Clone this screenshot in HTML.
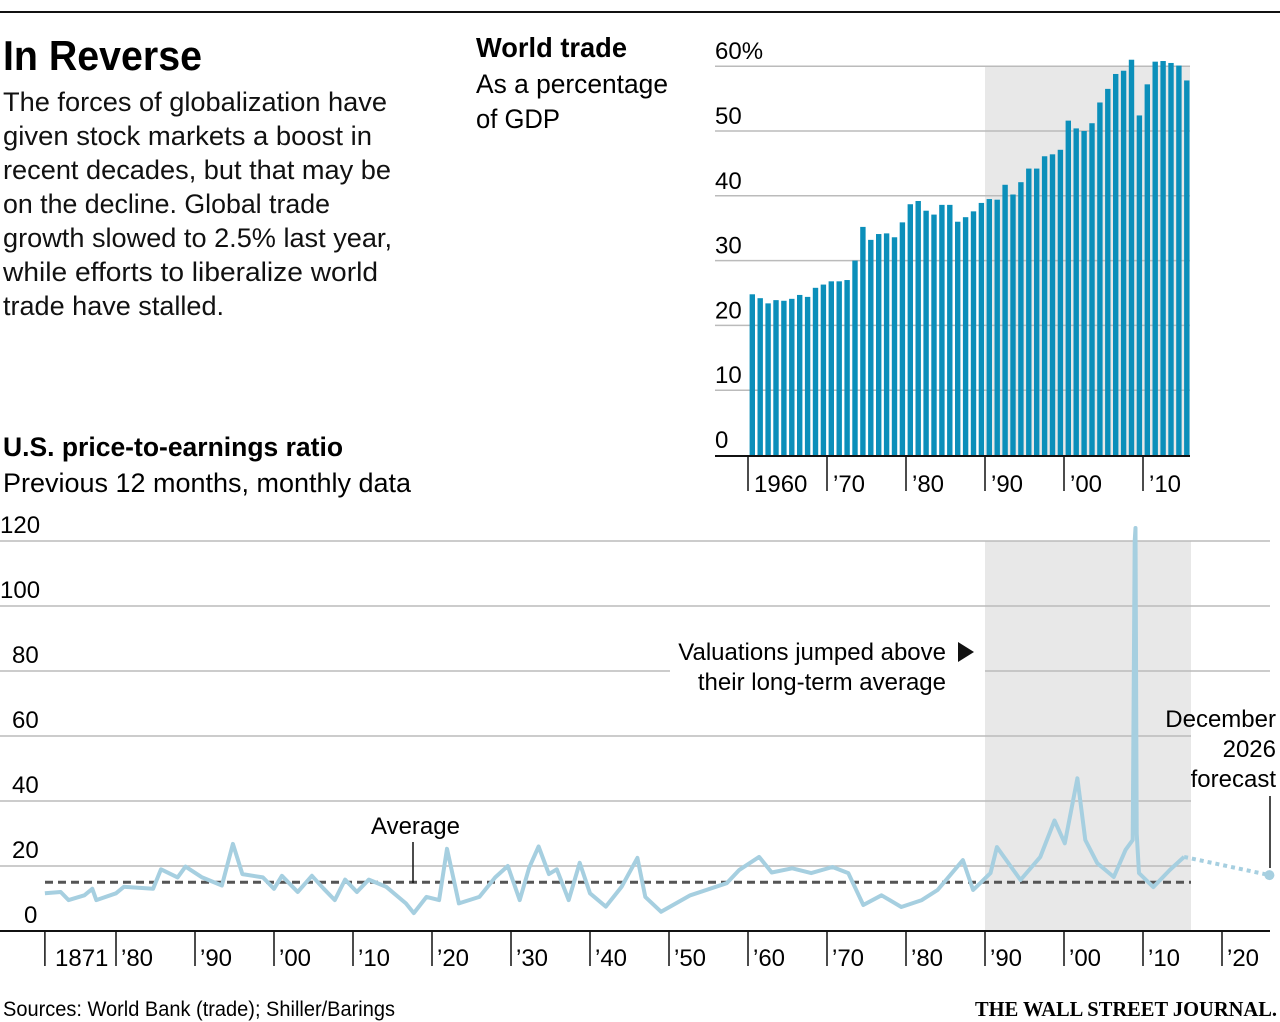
<!DOCTYPE html>
<html><head><meta charset="utf-8"><style>
html,body{margin:0;padding:0;background:#fff;}
svg{display:block;font-family:"Liberation Sans",sans-serif;}
</style></head><body>
<svg id="chart" width="1280" height="1022" viewBox="0 0 1280 1022" xmlns="http://www.w3.org/2000/svg">
<line x1="0" y1="12" x2="1280" y2="12" stroke="#111" stroke-width="2"/>
<text x="3" y="70" font-size="42" font-weight="bold" textLength="199" lengthAdjust="spacingAndGlyphs">In Reverse</text>
<g font-size="27" fill="#111">
<text x="3" y="111" textLength="384" lengthAdjust="spacingAndGlyphs">The forces of globalization have</text>
<text x="3" y="145" textLength="369" lengthAdjust="spacingAndGlyphs">given stock markets a boost in</text>
<text x="3" y="179" textLength="388" lengthAdjust="spacingAndGlyphs">recent decades, but that may be</text>
<text x="3" y="213" textLength="327" lengthAdjust="spacingAndGlyphs">on the decline. Global trade</text>
<text x="3" y="247" textLength="389" lengthAdjust="spacingAndGlyphs">growth slowed to 2.5% last year,</text>
<text x="3" y="281" textLength="375" lengthAdjust="spacingAndGlyphs">while efforts to liberalize world</text>
<text x="3" y="315" textLength="221" lengthAdjust="spacingAndGlyphs">trade have stalled.</text>
</g>
<text x="476" y="57" font-size="28" font-weight="bold" textLength="151" lengthAdjust="spacingAndGlyphs">World trade</text>
<text x="476" y="93" font-size="27" textLength="192" lengthAdjust="spacingAndGlyphs">As a percentage</text>
<text x="476" y="128" font-size="27" textLength="84" lengthAdjust="spacingAndGlyphs">of GDP</text>
<g id="trade"></g>
<text x="3" y="456" font-size="27" font-weight="bold" textLength="340" lengthAdjust="spacingAndGlyphs">U.S. price-to-earnings ratio</text>
<text x="3" y="492" font-size="27" textLength="408" lengthAdjust="spacingAndGlyphs">Previous 12 months, monthly data</text>
<g id="pe"></g>
<text x="3" y="1016" font-size="21" textLength="392" lengthAdjust="spacingAndGlyphs">Sources: World Bank (trade); Shiller/Barings</text>
<text x="1277" y="1016" font-size="21" font-weight="bold" font-family="Liberation Serif, serif" text-anchor="end" textLength="302" lengthAdjust="spacingAndGlyphs">THE WALL STREET JOURNAL.</text>
</svg>
<script>
const NS='http://www.w3.org/2000/svg';
const tradeYears=[];for(let y=1960;y<=2015;y++)tradeYears.push(y);
const tradeValues=[24.8,24.2,23.4,23.9,23.8,24.1,24.7,24.4,25.8,26.3,26.8,26.8,27.0,30.0,35.2,33.2,34.1,34.2,33.6,35.9,38.7,39.2,37.7,37.1,38.6,38.6,36.0,36.7,37.6,38.9,39.5,39.4,41.7,40.2,42.1,44.2,44.2,46.1,46.4,47.1,51.6,50.4,50.0,51.2,54.4,56.5,58.8,59.3,61.0,52.4,57.2,60.7,60.8,60.5,60.1,57.8];
const tradeTicks=[0,10,20,30,40,50,60];
const tradeXTicks=[1960,1970,1980,1990,2000,2010];
const tradeXLabels=['1960','\u201970','\u201980','\u201990','\u201900','\u201910'];
const peDates=[1871,1873,1874,1876,1877,1877.5,1880,1881,1884.7,1885.7,1887.8,1888.8,1890.9,1893.4,1894.8,1896,1898.6,1900,1901,1903,1904.8,1906.3,1907.7,1909,1910.5,1912,1914.2,1916.7,1917.7,1919.3,1920.9,1921.9,1923.4,1926,1928,1929.6,1931.1,1932.3,1933.5,1934.8,1935.8,1937.3,1938.7,1940,1942,1944,1946,1947,1949,1952.7,1957.3,1958.9,1961.4,1963,1965.6,1968,1970.7,1972.7,1974.6,1976.9,1979.4,1982,1984,1987.2,1988.5,1990.7,1991.5,1994.5,1997,1998.8,2000.1,2001.7,2002.7,2004.2,2006.3,2007.8,2008.7,2008.95,2009.05,2009.2,2009.5,2011.3,2013.4,2015.2];
const peValues=[11.6,12,9.5,11,13,9.5,11.6,13.6,13,19,16.5,19.8,16.5,14,26.8,17.5,16.5,13,17,12,17,13,9.5,15.8,12,15.8,13.6,8.5,5.5,10.5,9.5,25.3,8.5,10.5,16.5,20,9.5,19.5,26,17.5,19,9.5,21,11.6,7.5,13.6,22.5,10.5,5.9,11,14.7,18.8,22.8,18,19.3,17.8,19.7,17.8,8,11,7.4,9.5,12.6,21.8,12.6,17.8,25.8,15.7,22.8,34,27,47,28,20.9,16.6,25,28,120,124,30,17.8,13.5,18.8,22.8];
const peForecastDates=[2015.2,2026];
const peForecastValues=[22.8,17.2];
const peAverage=[15];
const peTicks=[0,20,40,60,80,100,120];
const peXTicks=[1880,1890,1900,1910,1920,1930,1940,1950,1960,1970,1980,1990,2000,2010,2020];
const peXLabels=['\u201980','\u201990','\u201900','\u201910','\u201920','\u201930','\u201940','\u201950','\u201960','\u201970','\u201980','\u201990','\u201900','\u201910','\u201920'];

function mk(p,tag,a){const e=document.createElementNS(NS,tag);for(const k in a)e.setAttribute(k,a[k]);p.appendChild(e);return e;}
const xYear=y=>748+(y-1960)*7.9;
const tg=document.getElementById('trade');
const ty=v=>455-v*6.48;
let sh=mk(tg,'rect',{x:985,y:66,width:205,height:389,fill:'#e8e8e8'});


tradeTicks.forEach(t=>{
  if(t>0){const l=mk(tg,'line',{x1:715,x2:1190,y1:ty(t),y2:ty(t),stroke:'#bbb','stroke-width':1.5});
  
  }
  const tx=mk(tg,'text',{x:715,y:ty(t)-7,'font-size':24});
  tx.textContent=t===60?'60%':String(t);
  
  
});
tradeYears.forEach((yr,i)=>{
  const b=mk(tg,'rect',{x:xYear(yr)+1.6,y:ty(tradeValues[i]),width:5.4,height:tradeValues[i]*6.48,fill:'#0b8fba'});
  
  
});
let ax=mk(tg,'line',{x1:715,x2:1190,y1:456,y2:456,stroke:'#111','stroke-width':2});


tradeXTicks.forEach((y,i)=>{
  const l=mk(tg,'line',{x1:xYear(y),x2:xYear(y),y1:456,y2:491,stroke:'#111','stroke-width':1.5});
  
  
  const t=mk(tg,'text',{x:xYear(y)+6,y:492,'font-size':24});
  t.textContent=tradeXLabels[i];
  
  
});
const pg=document.getElementById('pe');
const py=v=>931-v*3.25;
sh=mk(pg,'rect',{x:985,y:541,width:206,height:389,fill:'#e8e8e8'});


peTicks.forEach(t=>{
  if(t>0){
    let x2=(t<=60)?1191:1270;
    if(t===80){
      const a=mk(pg,'line',{x1:0,x2:670,y1:py(t),y2:py(t),stroke:'#bbb','stroke-width':1.5});
      
      
      const b=mk(pg,'line',{x1:985,x2:1270,y1:py(t),y2:py(t),stroke:'#bbb','stroke-width':1.5});
      
      
    } else {
      const l=mk(pg,'line',{x1:0,x2:x2,y1:py(t),y2:py(t),stroke:'#bbb','stroke-width':1.5});
      
      
    }
  }
  const tx=mk(pg,'text',{x:t>=100?0:(t===0?24:12),y:py(t)-8,'font-size':24});
  tx.textContent=String(t);
  
  
});
let avg=mk(pg,'line',{x1:45,x2:1191,y1:py(peAverage[0]),y2:py(peAverage[0]),stroke:'#555','stroke-width':3,'stroke-dasharray':'8,5'});


let d='';peDates.forEach((y,i)=>{d+=(i?'L':'M')+xYear(y).toFixed(1)+','+py(peValues[i]).toFixed(1);});
let pl=mk(pg,'path',{d:d,fill:'none',stroke:'#a6cfe0','stroke-width':4,'stroke-linejoin':'round'});


let fc=mk(pg,'line',{x1:xYear(peForecastDates[0]),y1:py(peForecastValues[0]),x2:xYear(peForecastDates[1]),y2:py(peForecastValues[1]),stroke:'#a6cfe0','stroke-width':4,'stroke-dasharray':'4,4'});


let dot=mk(pg,'circle',{cx:xYear(peForecastDates[1]),cy:py(peForecastValues[1]),r:5,fill:'#a6cfe0'});


ax=mk(pg,'line',{x1:0,x2:1270,y1:931,y2:931,stroke:'#111','stroke-width':2});


let t0=mk(pg,'line',{x1:xYear(1871),x2:xYear(1871),y1:931,y2:966,stroke:'#111','stroke-width':1.5});


let l0=mk(pg,'text',{x:55,y:966,'font-size':24});l0.textContent='1871';


peXTicks.forEach((y,i)=>{
  const l=mk(pg,'line',{x1:xYear(y),x2:xYear(y),y1:931,y2:966,stroke:'#111','stroke-width':1.5});
  
  
  const t=mk(pg,'text',{x:xYear(y)+5,y:966,'font-size':24});
  t.textContent=peXLabels[i];
  
  
});
let at=mk(pg,'text',{x:371,y:834,'font-size':24});at.textContent='Average';


let al=mk(pg,'line',{x1:413,x2:413,y1:842,y2:883,stroke:'#111','stroke-width':1.5});


let v1=mk(pg,'text',{x:946,y:660,'font-size':24,'text-anchor':'end'});v1.textContent='Valuations jumped above';


let v2=mk(pg,'text',{x:946,y:690,'font-size':24,'text-anchor':'end'});v2.textContent='their long-term average';


let tri=mk(pg,'path',{d:'M958,642L974,652L958,662Z',fill:'#111'});


['December','2026','forecast'].forEach((s,i)=>{
  const t=mk(pg,'text',{x:1276,y:727+i*30,'font-size':24,'text-anchor':'end'});t.textContent=s;
  
  
});
let fl=mk(pg,'line',{x1:1270,x2:1270,y1:796,y2:868,stroke:'#111','stroke-width':1.5});


</script>
</body></html>
